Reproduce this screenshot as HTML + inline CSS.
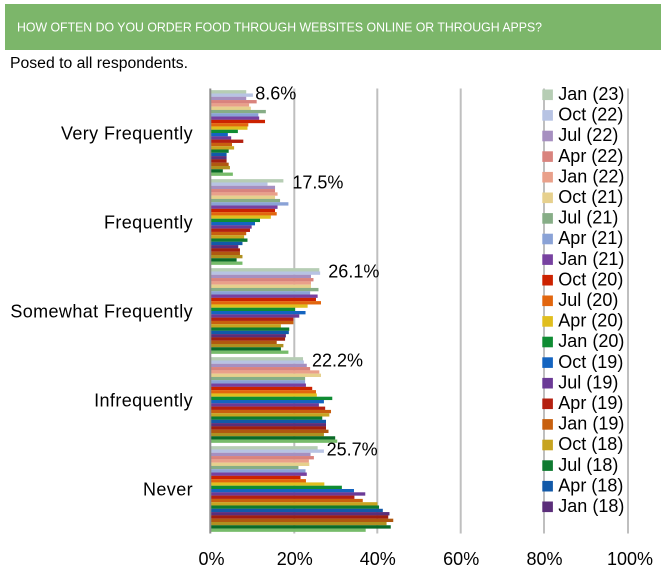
<!DOCTYPE html>
<html>
<head>
<meta charset="utf-8">
<style>
  html,body{margin:0;padding:0;background:#fff;}
  svg{display:block;}
  text{font-family:"Liberation Sans",Arial,sans-serif;fill:#000;}
  .c1{fill:#b6cdb4}.c2{fill:#b7c3e3}.c3{fill:#a68fc0}.c4{fill:#d9837d}.c5{fill:#e9a08a}
  .c6{fill:#e6d08d}.c7{fill:#86ad86}.c8{fill:#8aa2d6}.c9{fill:#7741a0}.c10{fill:#cc2200}
  .c11{fill:#e2660e}.c12{fill:#e0be1e}.c13{fill:#0f8c33}.c14{fill:#1464c0}.c15{fill:#6b3a96}
  .c16{fill:#b42010}.c17{fill:#c8600f}.c18{fill:#c7a420}.c19{fill:#0e7a30}.c20{fill:#1259a8}
  .c21{fill:#5b2e7a}.c22{fill:#a01e10}.c23{fill:#b05810}.c24{fill:#b09020}.c25{fill:#0b6a28}
  .c26{fill:#76bb6a}
</style>
</head>
<body>
<svg width="666" height="588" viewBox="0 0 666 588" xmlns="http://www.w3.org/2000/svg">
  <!-- header -->
  <rect x="5" y="4" width="656" height="46" fill="#7cb66a"/>
  <text x="17" y="31.5" font-size="12.5" style="fill:#fff" textLength="525" lengthAdjust="spacingAndGlyphs">HOW OFTEN DO YOU ORDER FOOD THROUGH WEBSITES ONLINE OR THROUGH APPS?</text>
  <text x="10" y="68" font-size="15.5" textLength="178" lengthAdjust="spacingAndGlyphs">Posed to all respondents.</text>

  <!-- gridlines -->
  <g stroke="#bfbfbf" stroke-width="2">
    <line x1="294.3" y1="88.5" x2="294.3" y2="533.5"/>
    <line x1="377.3" y1="88.5" x2="377.3" y2="533.5"/>
    <line x1="460.7" y1="88.5" x2="460.7" y2="533.5"/>
    <line x1="544" y1="88.5" x2="544" y2="533.5"/>
    <line x1="628" y1="88.5" x2="628" y2="533.5"/>
  </g>

  <!-- bars group 0: Very Frequently -->
  <g transform="translate(210.3,90.15) scale(4.177,3.296)">
    <rect class="c1" x="0" y="0" width="8.6" height="1.02"/>
    <rect class="c2" x="0" y="1" width="10.2" height="1.02"/>
    <rect class="c3" x="0" y="2" width="8.6" height="1.02"/>
    <rect class="c4" x="0" y="3" width="11.1" height="1.02"/>
    <rect class="c5" x="0" y="4" width="9.3" height="1.02"/>
    <rect class="c6" x="0" y="5" width="9.7" height="1.02"/>
    <rect class="c7" x="0" y="6" width="13.3" height="1.02"/>
    <rect class="c8" x="0" y="7" width="11.5" height="1.02"/>
    <rect class="c9" x="0" y="8" width="11.7" height="1.02"/>
    <rect class="c10" x="0" y="9" width="13.1" height="1.02"/>
    <rect class="c11" x="0" y="10" width="9.1" height="1.02"/>
    <rect class="c12" x="0" y="11" width="8.9" height="1.02"/>
    <rect class="c13" x="0" y="12" width="6.6" height="1.02"/>
    <rect class="c14" x="0" y="13" width="4.2" height="1.02"/>
    <rect class="c15" x="0" y="14" width="5.0" height="1.02"/>
    <rect class="c16" x="0" y="15" width="7.9" height="1.02"/>
    <rect class="c17" x="0" y="16" width="5.2" height="1.02"/>
    <rect class="c18" x="0" y="17" width="5.7" height="1.02"/>
    <rect class="c19" x="0" y="18" width="4.4" height="1.02"/>
    <rect class="c20" x="0" y="19" width="3.9" height="1.02"/>
    <rect class="c21" x="0" y="20" width="3.9" height="1.02"/>
    <rect class="c22" x="0" y="21" width="3.9" height="1.02"/>
    <rect class="c23" x="0" y="22" width="4.4" height="1.02"/>
    <rect class="c24" x="0" y="23" width="4.7" height="1.02"/>
    <rect class="c25" x="0" y="24" width="3.0" height="1.02"/>
    <rect class="c26" x="0" y="25" width="5.4" height="1"/>
  </g>

  <!-- bars group 1: Frequently -->
  <g transform="translate(210.3,179.15) scale(4.177,3.296)">
    <rect class="c1" x="0" y="0" width="17.5" height="1.02"/>
    <rect class="c2" x="0" y="1" width="13.7" height="1.02"/>
    <rect class="c3" x="0" y="2" width="15.5" height="1.02"/>
    <rect class="c4" x="0" y="3" width="15.5" height="1.02"/>
    <rect class="c5" x="0" y="4" width="16.1" height="1.02"/>
    <rect class="c6" x="0" y="5" width="15.5" height="1.02"/>
    <rect class="c7" x="0" y="6" width="16.7" height="1.02"/>
    <rect class="c8" x="0" y="7" width="18.7" height="1.02"/>
    <rect class="c9" x="0" y="8" width="16.1" height="1.02"/>
    <rect class="c10" x="0" y="9" width="15.5" height="1.02"/>
    <rect class="c11" x="0" y="10" width="15.9" height="1.02"/>
    <rect class="c12" x="0" y="11" width="14.5" height="1.02"/>
    <rect class="c13" x="0" y="12" width="11.9" height="1.02"/>
    <rect class="c14" x="0" y="13" width="10.7" height="1.02"/>
    <rect class="c15" x="0" y="14" width="9.9" height="1.02"/>
    <rect class="c16" x="0" y="15" width="9.5" height="1.02"/>
    <rect class="c17" x="0" y="16" width="8.6" height="1.02"/>
    <rect class="c18" x="0" y="17" width="8.1" height="1.02"/>
    <rect class="c19" x="0" y="18" width="8.9" height="1.02"/>
    <rect class="c20" x="0" y="19" width="7.7" height="1.02"/>
    <rect class="c21" x="0" y="20" width="6.7" height="1.02"/>
    <rect class="c22" x="0" y="21" width="7.1" height="1.02"/>
    <rect class="c23" x="0" y="22" width="7.1" height="1.02"/>
    <rect class="c24" x="0" y="23" width="7.7" height="1.02"/>
    <rect class="c25" x="0" y="24" width="6.3" height="1.02"/>
    <rect class="c26" x="0" y="25" width="7.7" height="1"/>
  </g>

  <!-- bars group 2: Somewhat Frequently -->
  <g transform="translate(210.3,268.15) scale(4.177,3.296)">
    <rect class="c1" x="0" y="0" width="26.1" height="1.02"/>
    <rect class="c2" x="0" y="1" width="26.3" height="1.02"/>
    <rect class="c3" x="0" y="2" width="24.1" height="1.02"/>
    <rect class="c4" x="0" y="3" width="24.7" height="1.02"/>
    <rect class="c5" x="0" y="4" width="24.1" height="1.02"/>
    <rect class="c6" x="0" y="5" width="24.1" height="1.02"/>
    <rect class="c7" x="0" y="6" width="25.9" height="1.02"/>
    <rect class="c8" x="0" y="7" width="23.9" height="1.02"/>
    <rect class="c9" x="0" y="8" width="25.7" height="1.02"/>
    <rect class="c10" x="0" y="9" width="25.3" height="1.02"/>
    <rect class="c11" x="0" y="10" width="26.5" height="1.02"/>
    <rect class="c12" x="0" y="11" width="23.3" height="1.02"/>
    <rect class="c13" x="0" y="12" width="20.3" height="1.02"/>
    <rect class="c14" x="0" y="13" width="22.8" height="1.02"/>
    <rect class="c15" x="0" y="14" width="21.3" height="1.02"/>
    <rect class="c16" x="0" y="15" width="19.9" height="1.02"/>
    <rect class="c17" x="0" y="16" width="19.9" height="1.02"/>
    <rect class="c18" x="0" y="17" width="16.9" height="1.02"/>
    <rect class="c19" x="0" y="18" width="18.9" height="1.02"/>
    <rect class="c20" x="0" y="19" width="18.8" height="1.02"/>
    <rect class="c21" x="0" y="20" width="18.1" height="1.02"/>
    <rect class="c22" x="0" y="21" width="17.9" height="1.02"/>
    <rect class="c23" x="0" y="22" width="15.9" height="1.02"/>
    <rect class="c24" x="0" y="23" width="17.5" height="1.02"/>
    <rect class="c25" x="0" y="24" width="16.9" height="1.02"/>
    <rect class="c26" x="0" y="25" width="18.7" height="1"/>
  </g>

  <!-- bars group 3: Infrequently -->
  <g transform="translate(210.3,357.15) scale(4.177,3.296)">
    <rect class="c1" x="0" y="0" width="22.2" height="1.02"/>
    <rect class="c2" x="0" y="1" width="22.4" height="1.02"/>
    <rect class="c3" x="0" y="2" width="23.1" height="1.02"/>
    <rect class="c4" x="0" y="3" width="23.9" height="1.02"/>
    <rect class="c5" x="0" y="4" width="26.1" height="1.02"/>
    <rect class="c6" x="0" y="5" width="26.5" height="1.02"/>
    <rect class="c7" x="0" y="6" width="22.7" height="1.02"/>
    <rect class="c8" x="0" y="7" width="22.7" height="1.02"/>
    <rect class="c9" x="0" y="8" width="22.9" height="1.02"/>
    <rect class="c10" x="0" y="9" width="24.4" height="1.02"/>
    <rect class="c11" x="0" y="10" width="25.3" height="1.02"/>
    <rect class="c12" x="0" y="11" width="25.5" height="1.02"/>
    <rect class="c13" x="0" y="12" width="29.2" height="1.02"/>
    <rect class="c14" x="0" y="13" width="27.2" height="1.02"/>
    <rect class="c15" x="0" y="14" width="26.0" height="1.02"/>
    <rect class="c16" x="0" y="15" width="27.5" height="1.02"/>
    <rect class="c17" x="0" y="16" width="28.9" height="1.02"/>
    <rect class="c18" x="0" y="17" width="28.5" height="1.02"/>
    <rect class="c19" x="0" y="18" width="26.8" height="1.02"/>
    <rect class="c20" x="0" y="19" width="27.7" height="1.02"/>
    <rect class="c21" x="0" y="20" width="27.7" height="1.02"/>
    <rect class="c22" x="0" y="21" width="27.7" height="1.02"/>
    <rect class="c23" x="0" y="22" width="28.3" height="1.02"/>
    <rect class="c24" x="0" y="23" width="27.2" height="1.02"/>
    <rect class="c25" x="0" y="24" width="29.9" height="1.02"/>
    <rect class="c26" x="0" y="25" width="30.4" height="1"/>
  </g>

  <!-- bars group 4: Never -->
  <g transform="translate(210.3,446.15) scale(4.177,3.296)">
    <rect class="c1" x="0" y="0" width="25.7" height="1.02"/>
    <rect class="c2" x="0" y="1" width="27.2" height="1.02"/>
    <rect class="c3" x="0" y="2" width="24.0" height="1.02"/>
    <rect class="c4" x="0" y="3" width="24.8" height="1.02"/>
    <rect class="c5" x="0" y="4" width="23.6" height="1.02"/>
    <rect class="c6" x="0" y="5" width="23.7" height="1.02"/>
    <rect class="c7" x="0" y="6" width="21.1" height="1.02"/>
    <rect class="c8" x="0" y="7" width="22.8" height="1.02"/>
    <rect class="c9" x="0" y="8" width="23.1" height="1.02"/>
    <rect class="c10" x="0" y="9" width="21.6" height="1.02"/>
    <rect class="c11" x="0" y="10" width="22.9" height="1.02"/>
    <rect class="c12" x="0" y="11" width="27.3" height="1.02"/>
    <rect class="c13" x="0" y="12" width="31.5" height="1.02"/>
    <rect class="c14" x="0" y="13" width="34.4" height="1.02"/>
    <rect class="c15" x="0" y="14" width="37.1" height="1.02"/>
    <rect class="c16" x="0" y="15" width="34.5" height="1.02"/>
    <rect class="c17" x="0" y="16" width="36.5" height="1.02"/>
    <rect class="c18" x="0" y="17" width="40.0" height="1.02"/>
    <rect class="c19" x="0" y="18" width="40.4" height="1.02"/>
    <rect class="c20" x="0" y="19" width="41.3" height="1.02"/>
    <rect class="c21" x="0" y="20" width="42.9" height="1.02"/>
    <rect class="c22" x="0" y="21" width="42.6" height="1.02"/>
    <rect class="c23" x="0" y="22" width="43.8" height="1.02"/>
    <rect class="c24" x="0" y="23" width="42.2" height="1.02"/>
    <rect class="c25" x="0" y="24" width="43.2" height="1.02"/>
    <rect class="c26" x="0" y="25" width="37.2" height="1"/>
  </g>

  <!-- value axis line -->
  <line x1="210.3" y1="88.5" x2="210.3" y2="533.5" stroke="#8c8c8c" stroke-width="2"/>

  <!-- data labels -->
  <g font-size="18">
    <text x="255.2" y="99.6">8.6%</text>
    <text x="292.4" y="188.6">17.5%</text>
    <text x="328.3" y="277.6">26.1%</text>
    <text x="312.0" y="366.6">22.2%</text>
    <text x="326.6" y="455.6">25.7%</text>
  </g>

  <!-- category labels -->
  <g font-size="18" text-anchor="end" letter-spacing="0.4">
    <text x="193" y="139.5">Very Frequently</text>
    <text x="193" y="228.5">Frequently</text>
    <text x="193" y="317.5">Somewhat Frequently</text>
    <text x="193" y="406.5">Infrequently</text>
    <text x="193" y="495.5">Never</text>
  </g>

  <!-- x axis labels -->
  <g font-size="18" text-anchor="middle">
    <text x="211.5" y="565">0%</text>
    <text x="294.8" y="565">20%</text>
    <text x="377.8" y="565">40%</text>
    <text x="461.2" y="565">60%</text>
    <text x="544.5" y="565">80%</text>
    <text x="630" y="565">100%</text>
  </g>

  <!-- legend -->
  <g>
    <rect class="c1"  x="542.3" y="89.5"  width="10.6" height="10.6"/>
    <rect class="c2"  x="542.3" y="110.1" width="10.6" height="10.6"/>
    <rect class="c3"  x="542.3" y="130.7" width="10.6" height="10.6"/>
    <rect class="c4"  x="542.3" y="151.3" width="10.6" height="10.6"/>
    <rect class="c5"  x="542.3" y="171.9" width="10.6" height="10.6"/>
    <rect class="c6"  x="542.3" y="192.5" width="10.6" height="10.6"/>
    <rect class="c7"  x="542.3" y="213.1" width="10.6" height="10.6"/>
    <rect class="c8"  x="542.3" y="233.7" width="10.6" height="10.6"/>
    <rect class="c9"  x="542.3" y="254.3" width="10.6" height="10.6"/>
    <rect class="c10" x="542.3" y="274.9" width="10.6" height="10.6"/>
    <rect class="c11" x="542.3" y="295.5" width="10.6" height="10.6"/>
    <rect class="c12" x="542.3" y="316.1" width="10.6" height="10.6"/>
    <rect class="c13" x="542.3" y="336.7" width="10.6" height="10.6"/>
    <rect class="c14" x="542.3" y="357.3" width="10.6" height="10.6"/>
    <rect class="c15" x="542.3" y="377.9" width="10.6" height="10.6"/>
    <rect class="c16" x="542.3" y="398.5" width="10.6" height="10.6"/>
    <rect class="c17" x="542.3" y="419.1" width="10.6" height="10.6"/>
    <rect class="c18" x="542.3" y="439.7" width="10.6" height="10.6"/>
    <rect class="c19" x="542.3" y="460.3" width="10.6" height="10.6"/>
    <rect class="c20" x="542.3" y="480.9" width="10.6" height="10.6"/>
    <rect class="c21" x="542.3" y="501.5" width="10.6" height="10.6"/>
  </g>
  <g font-size="18">
    <text x="558.3" y="100.0">Jan (23)</text>
    <text x="558.3" y="120.6">Oct (22)</text>
    <text x="558.3" y="141.2">Jul (22)</text>
    <text x="558.3" y="161.8">Apr (22)</text>
    <text x="558.3" y="182.4">Jan (22)</text>
    <text x="558.3" y="203.0">Oct (21)</text>
    <text x="558.3" y="223.6">Jul (21)</text>
    <text x="558.3" y="244.2">Apr (21)</text>
    <text x="558.3" y="264.8">Jan (21)</text>
    <text x="558.3" y="285.4">Oct (20)</text>
    <text x="558.3" y="306.0">Jul (20)</text>
    <text x="558.3" y="326.6">Apr (20)</text>
    <text x="558.3" y="347.2">Jan (20)</text>
    <text x="558.3" y="367.8">Oct (19)</text>
    <text x="558.3" y="388.4">Jul (19)</text>
    <text x="558.3" y="409.0">Apr (19)</text>
    <text x="558.3" y="429.6">Jan (19)</text>
    <text x="558.3" y="450.2">Oct (18)</text>
    <text x="558.3" y="470.8">Jul (18)</text>
    <text x="558.3" y="491.4">Apr (18)</text>
    <text x="558.3" y="512.0">Jan (18)</text>
  </g>
</svg>
</body>
</html>
